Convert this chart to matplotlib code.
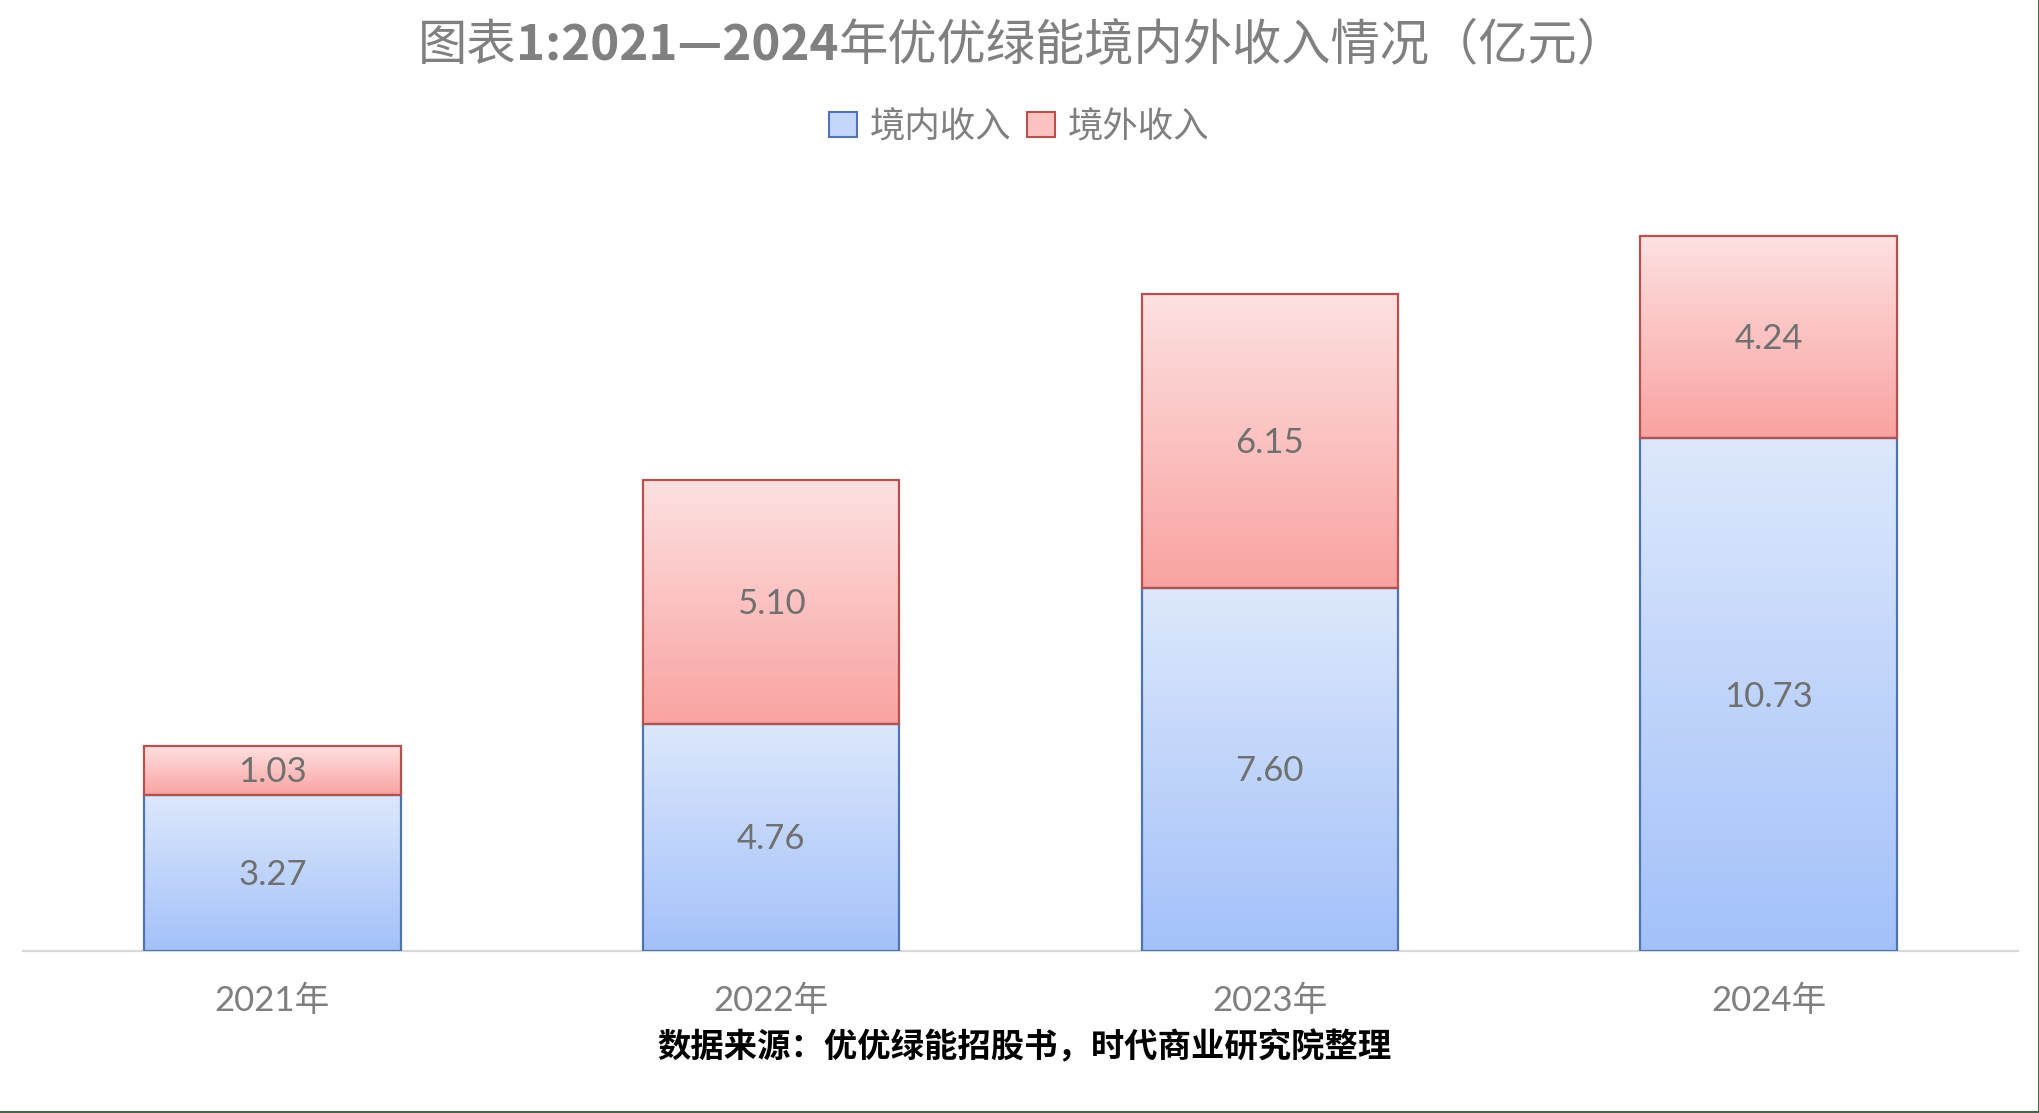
import numpy as np
import matplotlib
matplotlib.use("Agg")
import matplotlib.pyplot as plt
from matplotlib.patches import Patch
from matplotlib.lines import Line2D
from matplotlib.colors import LinearSegmentedColormap
from matplotlib.transforms import offset_copy

# ---- data ----
categories = ["2021年", "2022年", "2023年", "2024年"]
domestic = [3.27, 4.76, 7.60, 10.73]
overseas = [1.03, 5.10, 6.15, 4.24]
series_names = ["境内收入", "境外收入"]
title_parts = ["图表", "1:2021—2024", "年优优绿能境内外收入情况（亿元）"]
title_bold = [False, True, False]
source = "数据来源：优优绿能招股书，时代商业研究院整理"

W, H = 2040, 1113
fig = plt.figure(figsize=(W / 100, H / 100), dpi=100)
fig.patch.set_facecolor("white")

ax_left, ax_right = 23 / W, 2018 / W
ax_bottom = (H - 951) / H
ax_height = 762 / H
ax = fig.add_axes([ax_left, ax_bottom, ax_right - ax_left, ax_height])

x = np.arange(len(categories))
bar_w = 0.514
ymax = 15.95

blue_cmap = LinearSegmentedColormap.from_list("b", ["#a3c1f9", "#dde8fc"])
red_cmap = LinearSegmentedColormap.from_list("r", ["#f9a3a1", "#fde1e1"])
blue_edge = "#4e74b2"
red_edge = "#b8504e"

bars_d = ax.bar(x, domestic, bar_w, facecolor="none", edgecolor=blue_edge, linewidth=1.6, zorder=3)
bars_o = ax.bar(x, overseas, bar_w, bottom=domestic, facecolor="none", edgecolor=red_edge, linewidth=1.6, zorder=3)

grad = np.linspace(0, 1, 256).reshape(-1, 1)
for bars, cmap in ((bars_d, blue_cmap), (bars_o, red_cmap)):
    for b in bars:
        x0, y0, bw, bh = b.get_x(), b.get_y(), b.get_width(), b.get_height()
        ax.imshow(grad, cmap=cmap, origin="lower", aspect="auto",
                  extent=(x0, x0 + bw, y0, y0 + bh), zorder=2, interpolation="bicubic")
ax.set_xlim(-0.5, len(categories) - 0.5)
ax.set_ylim(0, ymax)

label_font = ["Lato", "DejaVu Sans"]
label_tr = offset_copy(ax.transData, fig=fig, x=0, y=-2, units="dots")
for bars, vals in ((bars_d, domestic), (bars_o, overseas)):
    for b, v in zip(bars, vals):
        ax.text(b.get_x() + b.get_width() / 2, b.get_y() + b.get_height() / 2,
                f"{v:.2f}", ha="center", va="center", fontsize=25,
                color="#707070", family=label_font, zorder=4, transform=label_tr)

for s in ["top", "right", "left"]:
    ax.spines[s].set_visible(False)
ax.spines["bottom"].set_color("#d9d9d9")
ax.spines["bottom"].set_linewidth(1.6)
ax.spines["bottom"].set_zorder(1)
ax.set_yticks([])
ax.set_xticks(x)
ax.set_xticklabels(categories, family=["Lato", "Noto Sans CJK SC"], fontsize=25, color="#7f7f7f")
ax.tick_params(axis="x", length=0, pad=24)
ax.set_facecolor("none")

# title in pieces (middle part bold), centred as a whole
renderer = fig.canvas.get_renderer()
title_y = 1 - 46 / H
pieces = []
for txt, bold in zip(title_parts, title_bold):
    t = fig.text(0, title_y, txt, ha="left", va="center", fontsize=35.5,
                 color="#808080", fontweight="bold" if bold else "normal",
                 family=["Noto Sans CJK SC", "DejaVu Sans"])
    pieces.append(t)
widths = [p.get_window_extent(renderer).width for p in pieces]
total = sum(widths)
cx = 1022
start = cx - total / 2
for p, w in zip(pieces, widths):
    p.set_x(start / W)
    start += w

handles = [Patch(facecolor="#c4d7fb", edgecolor=blue_edge, linewidth=1.5),
           Patch(facecolor="#fbc2c1", edgecolor=red_edge, linewidth=1.5)]
fig.legend(handles, series_names, loc="center", bbox_to_anchor=(1019 / W, 1 - 127 / H),
           ncol=2, frameon=False, prop={"family": "Noto Sans CJK SC", "size": 25.5},
           labelcolor="#7f7f7f", handlelength=0.8, handleheight=0.72,
           handletextpad=0.35, columnspacing=0.45, borderaxespad=0, borderpad=0)

fig.text(1024 / W, 1 - 1048 / H, source, ha="center", va="center",
         fontsize=24, color="black", fontweight="bold", family=["Noto Sans CJK SC"])

# thin frame on the right and bottom edges
fig.add_artist(Line2D([0, 1], [0.0008, 0.0008], transform=fig.transFigure, color="#4a664a", lw=1.5))
fig.add_artist(Line2D([0.9993, 0.9993], [0, 1], transform=fig.transFigure, color="#4a664a", lw=1.5))

fig.savefig("out.png", dpi=100, facecolor="white")
